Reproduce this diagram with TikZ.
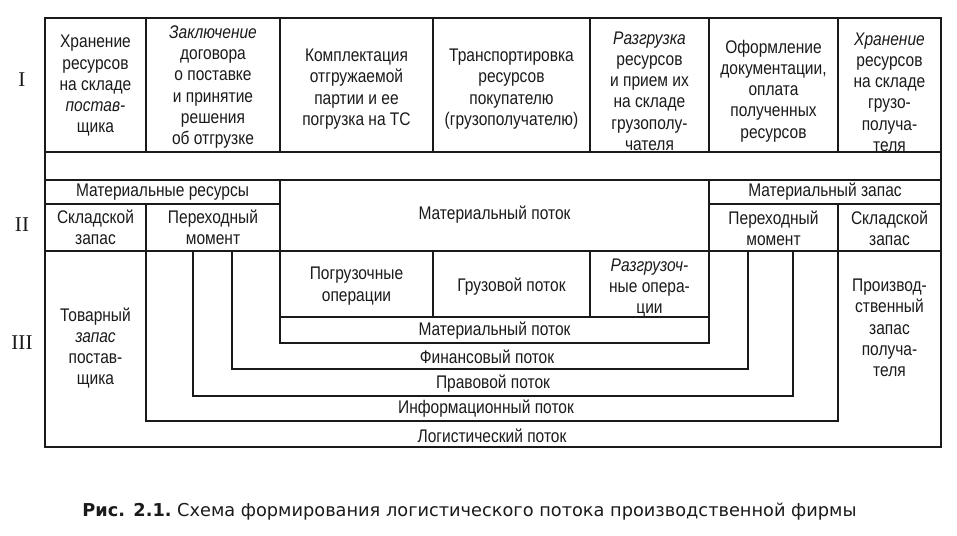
\documentclass[tikz,border=0pt]{standalone}
\usepackage{fontspec}
\setmainfont{Liberation Sans}
\newfontfamily\cellfont[FakeStretch=0.85]{Liberation Sans}
\newfontfamily\romfont{Liberation Serif}
\newfontfamily\capfont{DejaVu Sans}
\usepackage{xcolor}
\definecolor{colInk}{HTML}{1A1A1A}
\usepackage{tikz}
\usetikzlibrary{positioning}

\begin{document}
\begin{tikzpicture}[x=0.02cm, y=-0.02cm,
        font=\cellfont\fontsize{10.4}{12.1}\selectfont, colInk,
        cell/.style={align=center, inner sep=0pt},
        band/.style={inner sep=0pt},
        rownum/.style={font=\romfont\fontsize{12}{14}\selectfont},
        frame/.style={line width=0.8pt, line join=miter}]
        \useasboundingbox (0,0) rectangle (957,535);
        % Outer frame and row lines
        \draw[frame] (45,18) rectangle (941,447);
        \draw[frame] (45,152) -- (941,152);
        \draw[frame] (45,180) -- (941,180);
        \draw[frame] (45,204) -- (280,204);
        \draw[frame] (709,204) -- (941,204);
        \draw[frame] (45,251) -- (941,251);
        % Row I columns
        \foreach \x in {146,280,433,590,709,838}
            \draw[frame] (\x,18) -- (\x,152);
        % Material flow block
        \draw[frame] (280,180) -- (280,343) -- (709,343) -- (709,180);
        \draw[frame] (280,317) -- (709,317);
        \draw[frame] (433,251) -- (433,317);
        \draw[frame] (590,251) -- (590,317);
        % Nested flows
        \draw[frame] (232,251) -- (232,369) -- (748,369) -- (748,251);
        \draw[frame] (193,251) -- (193,396) -- (793,396) -- (793,251);
        \draw[frame] (146,204) -- (146,421) -- (838,421) -- (838,204);

        % Row I
        \node[cell] (hran1) at (95.5,86)
              {Хранение\\ресурсов\\на складе\\\textit{постав-}\\щика};
        \node[cell] (zakl) at (213,87)
              {\textit{Заключение}\\договора\\о поставке\\и принятие\\решения\\об отгрузке};
        \node[cell] (kompl) at (356.5,89)
              {Комплектация\\отгружаемой\\партии и ее\\погрузка на ТС};
        \node[cell] (transp) at (511.5,89)
              {Транспортировка\\ресурсов\\покупателю\\(грузополучателю)};
        \node[cell] (razgr1) at (649.5,91)
              {\textit{Разгрузка}\\ресурсов\\и прием их\\на складе\\грузополу-\\чателя};
        \node[cell] (oform) at (773.5,91)
              {Оформление\\документации,\\оплата\\полученных\\ресурсов};
        \node[cell] (hran2) at (889.5,92)
              {\textit{Хранение}\\ресурсов\\на складе\\грузо-\\получа-\\теля};

        % Row II
        \node[cell] (matres) at (162.5,192) {Материальные ресурсы};
        \node[cell] (sklad1) at (95.5,227) {Складской\\запас};
        \node[cell] (perekh1) at (213,227) {Переходный\\момент};
        \node[cell] (matpot) at (494.5,215) {Материальный поток};
        \node[cell] (matzap) at (825,192) {Материальный запас};
        \node[cell] (perekh2) at (773.5,228) {Переходный\\момент};
        \node[cell] (sklad2) at (889.5,228) {Складской\\запас};

        % Row III
        \node[cell] (pogr) at (356.5,286) {Погрузочные\\операции};
        \node[cell] (gruz) at (511.5,287) {Грузовой поток};
        \node[cell] (razgr2) at (649.5,288) {\textit{Разгрузоч-}\\ные опера-\\ции};
        \node[cell] (tovar) at (95.5,348)
              {Товарный\\\textit{запас}\\постав-\\щика};
        \node[cell] (proizv) at (889.5,328)
              {Производ-\\ственный\\запас\\получа-\\теля};

        % Flows
        \node[band] (fmat) at (494.5,331) {Материальный поток};
        \node[band] (ffin) at (487,357) {Финансовый поток};
        \node[band] (fprav) at (493,384) {Правовой поток};
        \node[band] (finf) at (486,409) {Информационный поток};
        \node[band] (flog) at (492,436) {Логистический поток};

        % Levels
        \node[rownum] (lvlI) at (22,80) {I};
        \node[rownum] (lvlII) at (22,225) {II};
        \node[rownum] (lvlIII) at (22,343) {III};

        % Caption
        \node[font=\capfont\fontsize{10.1}{12}\selectfont, inner sep=0pt] (cap) at (469.5,512)
              {\textbf{Рис. 2.1.}\ Схема формирования логистического потока производственной фирмы};
    \end{tikzpicture}
\end{document}
